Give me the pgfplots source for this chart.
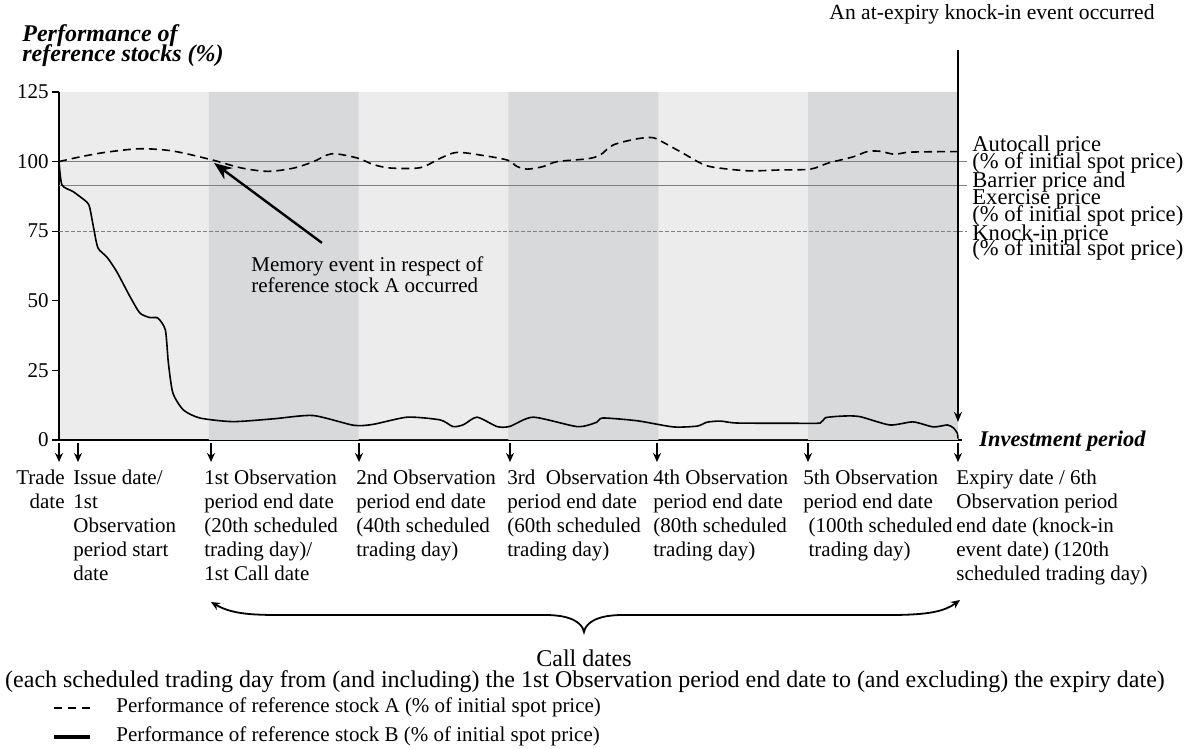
\documentclass[border=0pt]{standalone}
\usepackage{pgfplots}
\pgfplotsset{compat=1.18}
\usepackage{fontspec}
\setmainfont{Liberation Serif}
\usetikzlibrary{arrows.meta}
\definecolor{bandlight}{RGB}{236,236,236}
\definecolor{banddark}{RGB}{216,217,219}
\definecolor{refgray}{RGB}{128,128,128}
\newcommand\lab{\fontsize{10.5}{12}\selectfont}
\newcommand\rlab{\fontsize{11.3}{8.5}\selectfont}

\begin{document}
\begin{tikzpicture}
\begin{axis}[
  at={(0,0)}, anchor=south west,
  scale only axis, width=449.5pt, height=174pt,
  xmin=0, xmax=120, ymin=0, ymax=125,
  axis lines*=left,
  axis line style={line width=0.75pt, black},
  xtick=\empty,
  ytick={0,25,50,75,100,125},
  tick align=outside, major tick length=3.5pt,
  tick style={line width=0.6pt, black},
  yticklabel style={font=\lab, inner sep=0pt, xshift=-1.5pt},
  /pgf/number format/assume math mode=true,
  axis background/.style={fill=bandlight},
  clip=false,
]
% observation periods 2, 4, 6 in the darker shade
\addplot[ybar interval, fill=banddark, draw=none] coordinates {(20,125) (40,0) (60,125) (80,0) (100,125) (120,0)};

% autocall, barrier/exercise and knock-in levels
\addplot[refgray, line width=0.5pt] coordinates {(0,100) (121.2,100)};
\addplot[refgray, line width=0.5pt] coordinates {(0,91.5) (121.2,91.5)};
\addplot[refgray, line width=0.4pt, dash pattern=on 2pt off 1pt] coordinates {(0,75) (121.2,75)};

% stock A
\addplot[black, line width=0.8pt, dash pattern=on 4pt off 2.5pt, smooth, tension=0.5] coordinates {
(0,100) (3,101.8) (6.4,103.4) (10.8,104.6) (15.2,103.8) (20.6,100.5) (24.2,97.8) (27.8,96.5)
(31.2,97.6) (33.9,99.9) (36.4,102.8) (39.8,101.3) (41.9,99) (44.2,97.7) (48.2,97.8) (50.9,101.2)
(53.1,103.3) (56.6,102.2) (59.9,100.5) (61.1,98.3) (62.5,97.3) (64.6,98.2) (66.5,100) (70.5,101)
(72.2,102.3) (74,106) (77.2,108.2) (79.3,108.6) (80.6,107) (83.3,103) (85.6,99.5) (87.3,98)
(91.9,96.7) (96.3,97) (100.3,97.3) (102.7,99.5) (106,101.7) (107.9,103.6) (109.6,103.7)
(111.6,102.6) (113.6,103.4) (120,103.6)};

% stock B
\addplot[black, line width=0.8pt, smooth, tension=0.4] coordinates {
(0,100) (0.4,91.6) (1.9,89.2) (3.7,85.5) (4.1,83.5) (4.6,76.5) (5.2,69) (6.4,65.7) (7.7,60.5)
(9.5,51.4) (10.8,45.6) (12.1,44) (13.2,43.8) (14.2,39.5) (14.6,27.7) (15.2,16.9) (16.6,10.8)
(18.8,7.9) (23.2,6.6) (28.6,7.6) (33.9,8.8) (39.3,5.3) (41.9,5.6) (46.5,8.2) (50.9,7.2)
(52.6,4.8) (54,5.5) (55.8,8.2) (58.5,4.8) (60.2,4.9) (63.3,8.2) (69.2,4.8) (71.8,6.4) (72.6,7.9)
(77.2,6.9) (82,4.7) (85.2,5) (86.5,6.4) (88.3,6.8) (90.5,6.1) (98.5,6.0) (101.6,6.1) (102.3,8)
(104.7,8.6) (106.9,8.4) (110.9,5.4) (114,6.5) (116.7,4.7) (118.6,5.4) (119.4,4.3) (119.9,2.5) (120,0.5)};

\draw[line width=0.75pt] (axis cs:120,0) -- (axis cs:120.5,0);
\draw[line width=1pt, -{Stealth[length=5pt,width=4pt]}] (axis cs:120,140.1) -- (axis cs:120,6.5);
\draw[line width=1.2pt, -{Stealth[length=9pt,width=7pt]}] (axis cs:35.1,70.8) -- (axis cs:20.7,99.5);
\end{axis}

% annotations in pixel units of the reference
\begin{scope}[x=0.5pt, y=-0.5pt, shift={(-59,-440)}]
\foreach \xx in {59,78,211,359,510,657,808,958}
  \draw[line width=0.75pt, -{Stealth[length=4.5pt,width=4pt]}] (\xx,443) -- (\xx,462);

\node[anchor=north east, align=right, font=\lab, inner sep=0pt] at (65,467) {\strut Trade\\date};
\node[anchor=north west, align=left, font=\lab, inner sep=0pt] at (73,467) {\strut Issue date/\\1st\\Observation\\period start\\date};
\node[anchor=north west, align=left, font=\lab, inner sep=0pt] at (204,467) {\strut 1st Observation\\period end date\\(20th scheduled\\trading day)/\\1st Call date};
\node[anchor=north west, align=left, font=\lab, inner sep=0pt] at (356,467) {\strut 2nd Observation\\period end date\\(40th scheduled\\trading day)};
\node[anchor=north west, align=left, font=\lab, inner sep=0pt] at (507,467) {\strut 3rd\ \ Observation\\period end date\\(60th scheduled\\trading day)};
\node[anchor=north west, align=left, font=\lab, inner sep=0pt] at (653,467) {\strut 4th Observation\\period end date\\(80th scheduled\\trading day)};
\node[anchor=north west, align=left, font=\lab, inner sep=0pt] at (803,467) {\strut 5th Observation\\period end date\\\hspace{0.25em}(100th scheduled\\\hspace{0.25em}trading day)};
\node[anchor=north west, align=left, font=\lab, inner sep=0pt] at (956,467) {\strut Expiry date / 6th\\Observation period\\end date (knock-in\\event date) (120th\\scheduled trading day)};

\node[anchor=base west, font=\fontsize{12}{12}\selectfont\bfseries\itshape, inner sep=0pt] at (22,42) {Performance of};
\node[anchor=base west, font=\fontsize{12}{12}\selectfont\bfseries\itshape, inner sep=0pt] at (22,62) {reference stocks (\%)};
\node[anchor=base west, font=\fontsize{11.2}{12}\selectfont\bfseries\itshape, inner sep=0pt] at (979,447) {Investment period};
\node[anchor=base, font=\fontsize{10.8}{12}\selectfont, inner sep=0pt] at (992,20) {An at-expiry knock-in event occurred};

\node[anchor=base west, font=\rlab, inner sep=0pt] at (972,152) {Autocall price};
\node[anchor=base west, font=\rlab, inner sep=0pt] at (972,169) {(\% of initial spot price)};
\node[anchor=base west, font=\rlab, inner sep=0pt] at (972,188) {Barrier price and};
\node[anchor=base west, font=\rlab, inner sep=0pt] at (972,205) {Exercise price};
\node[anchor=base west, font=\rlab, inner sep=0pt] at (972,222) {(\% of initial spot price)};
\node[anchor=base west, font=\rlab, inner sep=0pt] at (972,241) {Knock-in price};
\node[anchor=base west, font=\rlab, inner sep=0pt] at (972,256) {(\% of initial spot price)};

\node[anchor=base west, font=\lab, inner sep=0pt] at (251,272) {Memory event in respect of};
\node[anchor=base west, font=\lab, inner sep=0pt] at (251,293) {reference stock A occurred};

\draw[line width=0.9pt, {Stealth[length=4.5pt,width=4pt]}-{Stealth[length=4.5pt,width=4pt]}]
  (211,602) .. controls (235,616) and (260,615) .. (300,615) -- (545,615)
  .. controls (570,615) and (582,622) .. (584,632)
  .. controls (586,622) and (598,615) .. (623,615) -- (890,615)
  .. controls (930,615) and (945,611) .. (960,600);
\node[anchor=base, font=\fontsize{12}{12}\selectfont, inner sep=0pt] at (584,667) {Call dates};
\node[anchor=base, font=\fontsize{12}{12}\selectfont, inner sep=0pt] at (585,688) {(each scheduled trading day from (and including) the 1st Observation period end date to (and excluding) the expiry date)};

\draw[line width=0.9pt, dash pattern=on 4pt off 3pt] (54,708) -- (90,708);
\draw[line width=2pt] (54,737) -- (90,737);
\node[anchor=base west, font=\lab, inner sep=0pt] at (116,713) {Performance of reference stock A (\% of initial spot price)};
\node[anchor=base west, font=\lab, inner sep=0pt] at (116,742) {Performance of reference stock B (\% of initial spot price)};

\pgfresetboundingbox
\path (0,0) rectangle (1191,749);
\end{scope}
\end{tikzpicture}
\end{document}
